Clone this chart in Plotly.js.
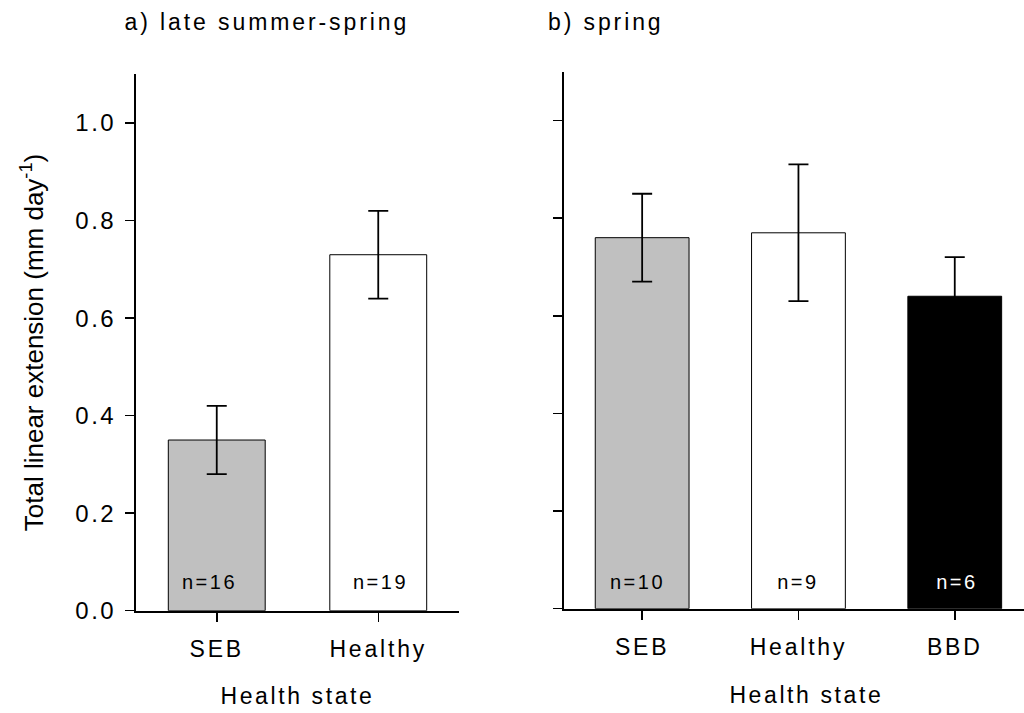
<!DOCTYPE html>
<html><head><meta charset="utf-8">
<script src="https://cdn.plot.ly/plotly-3.0.1.min.js"></script>
<style>
html,body{margin:0;padding:0;background:#fff;overflow:hidden;}
#chart{width:1024px;height:713px;}
.xtick text, .x2tick text { letter-spacing: 2.8px; }
.ytick text { letter-spacing: 2.5px; }
.xtitle { letter-spacing: 2.6px; }
.annotation text { letter-spacing: 2.5px; }
.annotation[data-index="0"] text, .annotation[data-index="1"] text { letter-spacing: 2.9px; }
.annotation[data-index="2"] text { letter-spacing: 2.6px; }
</style>
</head><body>
<div id="chart"></div>
<script>
// ---- data ----
const leftCats = ['SEB', 'Healthy'];
const leftMeans = [0.35, 0.73];
const leftErr = [0.07, 0.09];
const leftN = [16, 19];

const rightCats = ['SEB', 'Healthy', 'BBD'];
const rightMeans = [0.76, 0.77, 0.64];
const rightErr = [0.09, 0.14, 0.08];
const rightN = [10, 9, 6];

const yTickVals = [0.0, 0.2, 0.4, 0.6, 0.8, 1.0];
const yTickText = ['0.0', '0.2', '0.4', '0.6', '0.8', '1.0'];

const panelTitles = ['a) late summer-spring', 'b) spring'];
const xTitle = 'Health state';
const yTitle = 'Total linear extension (mm day<sup>-1</sup>)';

// ---- styles ----
const leftColors = ['#c0c0c0', '#ffffff'];
const rightColors = ['#c0c0c0', '#ffffff', '#000000'];
const nLeftColors = ['#000000', '#000000'];
const nRightColors = ['#000000', '#000000', '#ffffff'];
const nLeftShift = [-7, 2];
const nRightShift = [-5, 0, 2];
const FONT = 'Liberation Sans, Arial, sans-serif';
const W = 1024, H = 713;
const px = v => v / W;
const py = v => 1 - v / H;

const traces = [
  {
    type: 'bar', x: leftCats, y: leftMeans, xaxis: 'x', yaxis: 'y', width: 0.6,
    marker: {color: leftColors, line: {color: '#000', width: 1}},
    error_y: {type: 'data', array: leftErr, visible: true, color: '#000', thickness: 1.8, width: 10},
    hoverinfo: 'none'
  },
  {
    type: 'bar', x: rightCats, y: rightMeans, xaxis: 'x2', yaxis: 'y2', width: 0.6,
    marker: {color: rightColors, line: {color: '#000', width: 1}},
    error_y: {type: 'data', array: rightErr, visible: true, color: '#000', thickness: 1.8, width: 10},
    hoverinfo: 'none'
  }
];

const annotations = [
  {text: panelTitles[0], xref: 'paper', yref: 'paper', x: px(267), y: py(22), xanchor: 'center', yanchor: 'middle',
   showarrow: false, font: {family: FONT, size: 23, color: '#000'}},
  {text: panelTitles[1], xref: 'paper', yref: 'paper', x: px(605), y: py(22), xanchor: 'center', yanchor: 'middle',
   showarrow: false, font: {family: FONT, size: 23, color: '#000'}},
  {text: xTitle, xref: 'paper', yref: 'paper', x: px(806), y: py(695), xanchor: 'center', yanchor: 'middle',
   showarrow: false, font: {family: FONT, size: 23, color: '#000'}}
];
leftCats.forEach((c, i) => annotations.push({
  text: 'n=' + leftN[i], xref: 'x', yref: 'y', x: c, y: 0.059, xanchor: 'center', yanchor: 'middle',
  xshift: nLeftShift[i], showarrow: false, font: {family: FONT, size: 20, color: nLeftColors[i]}
}));
rightCats.forEach((c, i) => annotations.push({
  text: 'n=' + rightN[i], xref: 'x2', yref: 'y2', x: c, y: 0.055, xanchor: 'center', yanchor: 'middle',
  xshift: nRightShift[i], showarrow: false, font: {family: FONT, size: 20, color: nRightColors[i]}
}));

const xCommon = {
  type: 'category', showline: true, linecolor: '#000', linewidth: 2, ticks: 'outside', ticklen: 9,
  tickwidth: 1.5, tickcolor: '#000', showgrid: false, zeroline: false, automargin: false, fixedrange: true,
  tickfont: {family: FONT, size: 23, color: '#000'}, ticklabelstandoff: 8
};
const yCommon = {
  range: [0, 1.1], showline: true, linecolor: '#000', linewidth: 2, ticks: 'outside', ticklen: 9,
  tickwidth: 1.5, tickcolor: '#000', showgrid: false, zeroline: false, automargin: false, fixedrange: true,
  tickmode: 'array', tickvals: yTickVals, ticktext: yTickText,
  tickfont: {family: FONT, size: 24, color: '#000'}
};

const layout = {
  width: W, height: H, margin: {l: 0, r: 0, t: 0, b: 0}, paper_bgcolor: '#fff', plot_bgcolor: 'rgba(0,0,0,0)',
  showlegend: false, bargap: 0.4,
  font: {family: FONT, color: '#000'},
  xaxis: Object.assign({}, xCommon, {domain: [px(136), px(459)], range: [-0.5, 1.5], anchor: 'y',
    title: {text: xTitle, font: {family: FONT, size: 23, color: '#000'}, standoff: 27}}),
  yaxis: Object.assign({}, yCommon, {domain: [py(610.7), py(74.3)], anchor: 'x', ticklabelstandoff: 4,
    title: {text: yTitle, font: {family: FONT, size: 26, color: '#000'}, standoff: 24}}),
  xaxis2: Object.assign({}, xCommon, {domain: [px(564), 1], range: [-0.5, 2.443], anchor: 'y2'}),
  yaxis2: Object.assign({}, yCommon, {domain: [py(608.7), py(71.7)], anchor: 'x2', showticklabels: false}),
  annotations: annotations
};

Plotly.newPlot('chart', traces, layout, {staticPlot: true, displayModeBar: false});
</script>
</body></html>
